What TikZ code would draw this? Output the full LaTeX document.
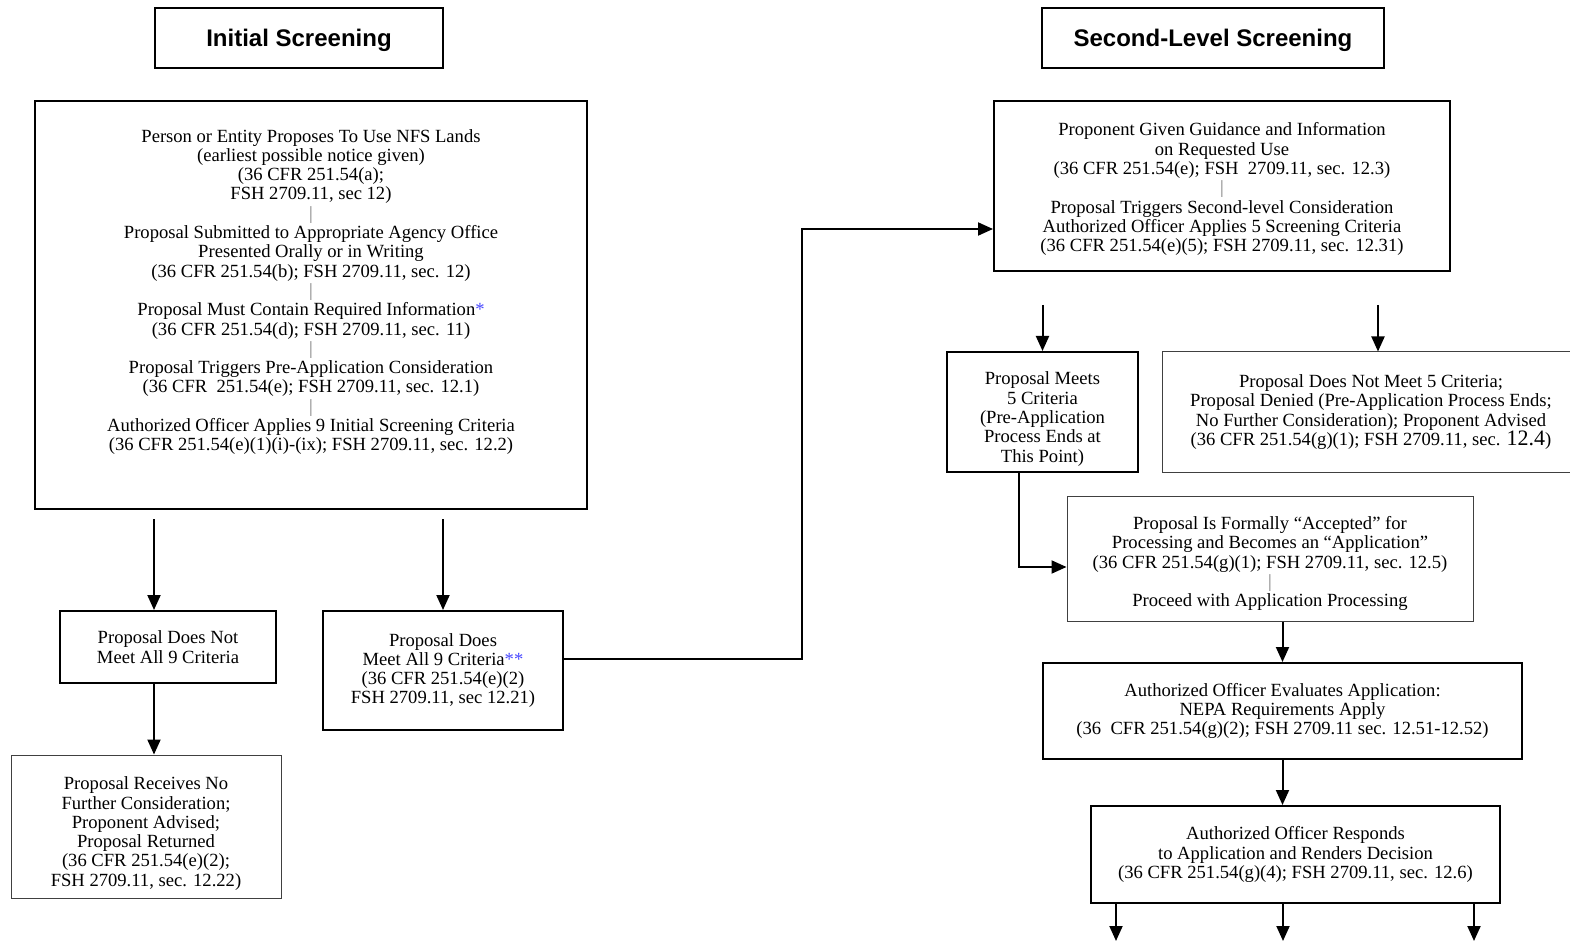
\documentclass[tikz,border=0pt]{standalone}
\usepackage{fontspec}
\setmainfont{Liberation Serif}
\setsansfont{Liberation Sans}
\usetikzlibrary{arrows.meta,positioning}
\definecolor{starblue}{RGB}{70,70,255}
\definecolor{sepgray}{RGB}{125,125,125}
\newcommand{\sepbar}{{\color{sepgray}|}}
\newcommand{\stars}[1]{\textcolor{starblue}{#1}}
\newcommand{\topgap}[1]{\rule{0pt}{#1}}
\tikzset{
  thickbox/.style={draw,line width=1pt,align=center,inner sep=0pt},
  thinbox/.style={draw=black!75,line width=0.5pt,align=center,inner sep=0pt},
  headbox/.style={thickbox,text depth=0pt,font=\sffamily\bfseries\fontsize{12}{14}\selectfont},
  arr/.style={line width=1pt,-{Triangle[width=6.5pt,length=7.5pt]}}
}

\begin{document}
\begin{tikzpicture}[x=0.5pt,y=-0.5pt,font=\fontsize{9.3}{9.65}\selectfont]
\useasboundingbox (0,0) rectangle (1570,941);

% headings
\node[headbox,minimum width=144pt,minimum height=30pt] (initial) at (299,38) {Initial Screening};
\node[headbox,minimum width=171pt,minimum height=30pt] (second) at (1213,38) {Second-Level Screening};

% initial screening
\node[thickbox,minimum width=276pt,minimum height=204pt] (screen) at (311,305) {};
\node[align=center] (screentext) at (311,292) {Person or Entity Proposes To Use NFS Lands\\
  (earliest possible notice given)\\ (36 CFR 251.54(a);\\ FSH 2709.11, sec 12)\\ \sepbar\\
  Proposal Submitted to Appropriate Agency Office\\ Presented Orally or in Writing\\
  (36 CFR 251.54(b); FSH 2709.11, sec. 12)\\ \sepbar\\
  Proposal Must Contain Required Information\stars{*}\\ (36 CFR 251.54(d); FSH 2709.11, sec. 11)\\ \sepbar\\
  Proposal Triggers Pre-Application Consideration\\ (36 CFR\ \ 251.54(e); FSH 2709.11, sec. 12.1)\\ \sepbar\\
  Authorized Officer Applies 9 Initial Screening Criteria\\ (36 CFR 251.54(e)(1)(i)-(ix); FSH 2709.11, sec. 12.2)};

\node[thickbox,minimum width=108pt,minimum height=36pt] (notmeet9) at (168,647) {Proposal Does Not\\ Meet All 9 Criteria};
\node[thinbox,minimum width=135pt,minimum height=71.5pt] (nofurther) at (146,826.5) {\topgap{13.5pt}Proposal Receives No\\
  Further Consideration;\\ Proponent Advised;\\ Proposal Returned\\ (36 CFR 251.54(e)(2);\\ FSH 2709.11, sec. 12.22)};
\node[thickbox,minimum width=120pt,minimum height=59.5pt] (meet9) at (443,670.5) {Proposal Does\\
  Meet All 9 Criteria\stars{**}\\ (36 CFR 251.54(e)(2)\\ FSH 2709.11, sec 12.21)};

% second-level screening
\node[thickbox,minimum width=228pt,minimum height=85pt] (guide) at (1222,186) {\topgap{9.8pt}Proponent Given Guidance and Information\\
  on Requested Use\\ (36 CFR 251.54(e); FSH\ \ 2709.11, sec. 12.3)\\ \sepbar\\
  Proposal Triggers Second-level Consideration\\ Authorized Officer Applies 5 Screening Criteria\\
  (36 CFR 251.54(e)(5); FSH 2709.11, sec. 12.31)};
\node[thickbox,minimum width=95.5pt,minimum height=60pt] (meets5) at (1042.5,412) {\topgap{13.5pt}Proposal Meets\\
  5 Criteria\\ (Pre-Application\\ Process Ends at\\ This Point)};
\node[thinbox,minimum width=209pt,minimum height=60pt] (notmeet5) at (1371,412) {Proposal Does Not Meet 5 Criteria;\\
  Proposal Denied (Pre-Application Process Ends;\\ No Further Consideration); Proponent Advised\\
  (36 CFR 251.54(g)(1); FSH 2709.11, sec. {\fontsize{11}{9.65}\selectfont 12.4})};
\node[thinbox,minimum width=203pt,minimum height=62.5pt] (accepted) at (1270,558.5) {\topgap{11.8pt}Proposal Is Formally ``Accepted'' for\\
  Processing and Becomes an ``Application''\\ (36 CFR 251.54(g)(1); FSH 2709.11, sec. 12.5)\\ \sepbar\\
  Proceed with Application Processing};
\node[thickbox,minimum width=239.5pt,minimum height=48pt] (evaluates) at (1282.5,711) {Authorized Officer Evaluates Application:\\
  NEPA Requirements Apply\\ (36\ \ CFR 251.54(g)(2); FSH 2709.11 sec. 12.51-12.52)};
\node[thickbox,minimum width=204.5pt,minimum height=48.5pt] (responds) at (1295.5,854.5) {Authorized Officer Responds\\
  to Application and Renders Decision\\ (36 CFR 251.54(g)(4); FSH 2709.11, sec. 12.6)};

% connectors
\coordinate (left) at ([xshift=60pt,yshift=-4.5pt]screen.south west);
\draw[arr] (left) -- (left |- notmeet9.north);
\draw[arr] ([yshift=-4.5pt]screen.south -| meet9.north) -- (meet9.north);
\draw[arr] (notmeet9.south -| left) -- (left |- nofurther.north);
\draw[arr] ([yshift=5.75pt]meet9.east) -| ([xshift=-95.5pt,yshift=-21.5pt]guide.west) -- ([yshift=-21.5pt]guide.west);
\draw[arr] ([yshift=-16.5pt]guide.south -| meets5.north) -- (meets5.north);
\coordinate (denied) at ([xshift=3.5pt]notmeet5.north);
\draw[arr] ([yshift=-16.5pt]guide.south -| denied) -- (denied);
\draw[arr] ([xshift=-11.75pt]meets5.south) |- ([yshift=-4.25pt]accepted.west);
\draw[arr] (evaluates.north |- accepted.south) -- (evaluates.north);
\draw[arr] (evaluates.south) -- (evaluates.south |- responds.north);
\coordinate (out1) at (1116,941);
\coordinate (out2) at (1283,941);
\coordinate (out3) at (1474,941);
\draw[arr] (responds.south -| out1) -- (out1);
\draw[arr] (responds.south -| out2) -- (out2);
\draw[arr] (responds.south -| out3) -- (out3);
\end{tikzpicture}
\end{document}
